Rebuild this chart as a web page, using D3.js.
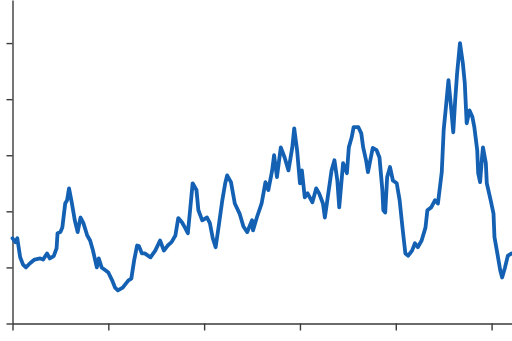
<!DOCTYPE html>
<html>
<head>
<meta charset="utf-8">
<script src="https://cdn.jsdelivr.net/npm/d3@7"></script>
<style>
html,body{margin:0;padding:0;background:#fff;overflow:hidden;}
svg{display:block;}
</style>
</head>
<body>
<script>
const xValues = [0,3,5,8,11,14,18,23,29,32,36,39,43,46,47,50,52,55,57,59,62,65,68,71,74,78,81,84,88,90,93,97,100,104,107,110,115,121,124,127,130,132,135,138,144,149,154,158,162,166,170,173,177,180,183,185,188,192,194,198,203,206,209,212,215,219,222,224,228,232,237,241,245,250,251,255,260,264,267,271,273,276,280,284,288,292,294,297,300,302,305,308,313,317,320,324,326,329,333,336,339,341,345,349,351,354,356,361,364,366,369,371,374,376,380,383,386,387,389,391,394,397,401,404,407,410,413,417,420,423,427,431,433,437,441,444,448,450,452,455,458,460,462,464,467,470,472,474,477,480,482,485,486,488,490,491,494,495,499,502,503,506,509,511,514,517,521];
const yValues = [15.2,14.5,15.2,11.8,10.5,10.0,10.7,11.4,11.6,11.4,12.5,11.6,12.0,13.4,16.1,16.3,17.1,21.4,22.0,24.1,21.4,18.4,16.3,18.9,17.9,15.7,14.8,13.0,10.0,11.6,10.0,9.5,9.1,7.7,6.4,5.9,6.4,7.7,8.0,11.3,13.9,13.8,12.5,12.5,11.8,13.0,14.8,13.0,13.9,14.5,15.7,18.8,18.0,17.1,16.1,19.6,25.0,23.8,20.2,18.4,18.9,17.9,15.2,13.6,17.1,22.0,25.0,26.4,25.2,21.4,19.6,17.3,16.3,18.4,16.6,18.9,21.4,25.2,23.8,27.3,30.0,26.1,31.4,29.6,27.3,31.4,34.8,30.9,25.0,27.3,22.5,23.2,21.6,24.1,23.2,21.4,18.9,22.5,27.3,29.1,25.5,20.7,28.6,26.8,31.4,33.2,35.0,35.0,33.9,31.4,29.1,27.0,29.6,31.3,30.9,29.6,23.8,20.2,19.8,26.1,27.9,25.5,25.0,22.0,17.1,12.5,12.1,13.0,14.3,13.6,14.8,17.1,20.2,20.7,22.0,21.4,27.0,34.5,38.0,43.4,38.0,34.1,39.8,44.6,50.0,46.4,42.9,35.7,38.0,36.8,35.0,30.9,26.8,25.2,29.6,31.4,28.6,25.0,22.0,19.6,15.4,12.5,9.5,8.2,10.0,12.1,12.5];
const xTicks = [0,100,200,300,400,500];
const yTicks = [0,10,20,30,40,50];

const W = 512, H = 341;
const svg = d3.select("body").append("svg").attr("width", W).attr("height", H);

const x = d3.scaleLinear().domain([0, 521.3]).range([12.5, 512]);
const y = d3.scaleLinear().domain([0, 57.68]).range([323.5, 0]);

const data = xValues.map((v, i) => ({x: v, y: yValues[i]}));

const yAxis = svg.append("g")
  .attr("transform", "translate(12.5,0)")
  .call(d3.axisLeft(y).tickValues(yTicks).tickSize(6).tickSizeOuter(0).tickFormat(""));
const xAxis = svg.append("g")
  .attr("transform", "translate(0,323.5)")
  .call(d3.axisBottom(x).tickValues(xTicks).tickSize(7).tickSizeOuter(0).tickFormat(""));

[yAxis, xAxis].forEach(g => {
  g.select(".domain").attr("stroke", "#3a3a3a").attr("stroke-width", 1.4);
  g.selectAll(".tick line").attr("stroke", "#3a3a3a").attr("stroke-width", 1.4);
});

svg.append("path")
  .datum(data)
  .attr("fill", "none")
  .attr("stroke", "#1461b4")
  .attr("stroke-width", 3.8)
  .attr("stroke-linejoin", "round")
  .attr("stroke-linecap", "round")
  .attr("d", d3.line().x(d => x(d.x)).y(d => y(d.y)));
</script>
</body>
</html>
